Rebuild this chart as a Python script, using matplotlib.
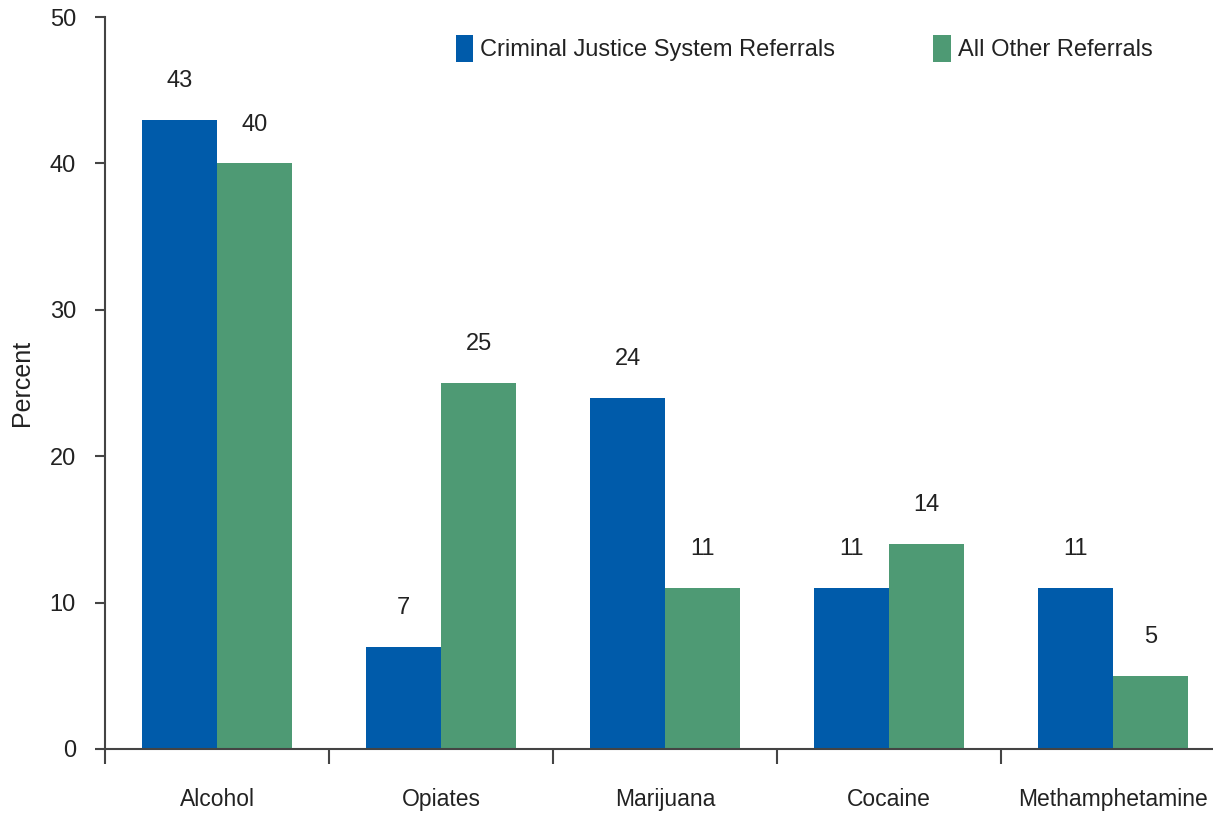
import numpy as np
import matplotlib.pyplot as plt
from matplotlib.patches import Patch

categories = ["Alcohol", "Opiates", "Marijuana", "Cocaine", "Methamphetamine"]
cjs_referrals = [43, 7, 24, 11, 11]
other_referrals = [40, 25, 11, 14, 5]
series_names = ["Criminal Justice System Referrals", "All Other Referrals"]

blue = "#005baa"
green = "#4e9a74"
txt = "#222222"

plt.rcParams["font.family"] = ["Liberation Sans", "DejaVu Sans"]

fig = plt.figure(figsize=(12.13, 8.15), dpi=100)
ax = fig.add_axes([0.0866, 0.081, 0.9134, 0.898])

x = np.arange(len(categories))
w = 0.335
b1 = ax.bar(x - w / 2, cjs_referrals, w, color=blue)
b2 = ax.bar(x + w / 2, other_referrals, w, color=green)

for bars, vals in ((b1, cjs_referrals), (b2, other_referrals)):
    for r, v in zip(bars, vals):
        ax.annotate(str(v), (r.get_x() + r.get_width() / 2, v),
                    xytext=(0, 20), textcoords="offset points",
                    ha="center", va="bottom", fontsize=17, color=txt)

ax.set_xlim(-0.5, 4.446)
ax.set_ylim(0, 50)
ax.set_yticks([0, 10, 20, 30, 40, 50])
ax.set_ylabel("Percent", fontsize=18, labelpad=11, color=txt)

ax.set_xticks(x)
ax.set_xticklabels(categories)
ax.set_xticks(np.arange(-0.5, 4.5, 1), minor=True)
ax.tick_params(axis="x", which="major", length=0, pad=28, labelsize=16.5, labelcolor=txt)
ax.tick_params(axis="x", which="minor", length=11, width=1.5, color="#444444", direction="out")
ax.tick_params(axis="y", length=7, width=1.5, color="#444444", pad=14, labelsize=17, labelcolor=txt)

for s in ("top", "right"):
    ax.spines[s].set_visible(False)
for s in ("left", "bottom"):
    ax.spines[s].set_color("#444444")
    ax.spines[s].set_linewidth(1.5)

handles = [Patch(facecolor=blue), Patch(facecolor=green)]
ax.legend(handles, series_names, ncol=2, frameon=False, fontsize=17,
          loc="upper right", bbox_to_anchor=(0.965, 1.005),
          handlelength=0.75, handleheight=1.4, handletextpad=0.3,
          columnspacing=4.15, labelcolor=txt)

fig.savefig("out.png", dpi=100)
